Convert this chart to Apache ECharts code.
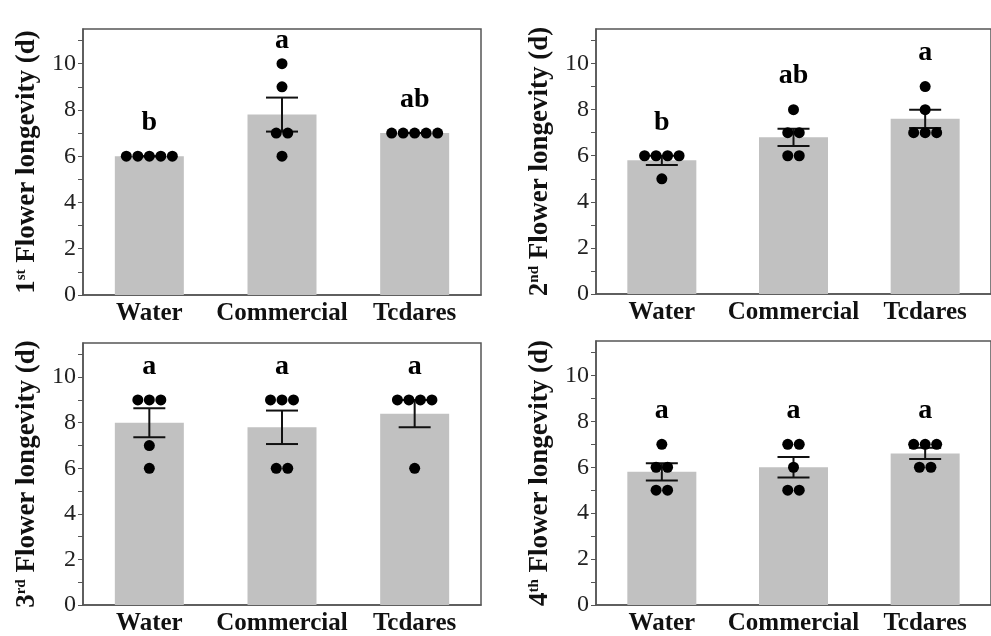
<!DOCTYPE html>
<html>
<head>
<meta charset="utf-8">
<script src="https://cdn.jsdelivr.net/npm/echarts@6/dist/echarts.min.js"></script>
<style>
  html, body { margin: 0; padding: 0; background: #fff; }
  #chart { width: 991px; height: 636px; }
</style>
</head>
<body>
<div id="chart"></div>
<script>
const categories = ["Water", "Commercial", "Tcdares"];

// individual flowers per treatment (days)
const flower1 = [[6, 6, 6, 6, 6], [10, 9, 7, 7, 6], [7, 7, 7, 7, 7]];
const flower2 = [[6, 6, 6, 6, 5], [8, 7, 7, 6, 6], [9, 8, 7, 7, 7]];
const flower3 = [[9, 9, 9, 7, 6], [9, 9, 9, 6, 6], [9, 9, 9, 9, 6]];
const flower4 = [[7, 6, 6, 5, 5], [7, 7, 6, 5, 5], [7, 7, 7, 6, 6]];

const letters1 = ["b", "a", "ab"];
const letters2 = ["b", "ab", "a"];
const letters3 = ["a", "a", "a"];
const letters4 = ["a", "a", "a"];

const ordinals = ["1", "2", "3", "4"];
const ordinalSuffix = ["st", "nd", "rd", "th"];
const yTickLabels = [0, 2, 4, 6, 8, 10];

const panels = [flower1, flower2, flower3, flower4];
const letters = [letters1, letters2, letters3, letters4];

const serif = "Liberation Serif";
const lineColor = "#555";
const yMax = 11.5;

const grids = [
  { left: 83, top: 29, width: 398, height: 266 },
  { left: 596, top: 29, width: 410, height: 265 },
  { left: 83, top: 343, width: 398, height: 266 },
  { left: 596, top: 341, width: 410, height: 266 },
];

const mean = (arr) => arr.reduce((a, b) => a + b, 0) / arr.length;
const se = (arr) => {
  const m = mean(arr);
  const v = arr.reduce((a, b) => a + (b - m) * (b - m), 0) / (arr.length - 1);
  return Math.sqrt(v / arr.length);
};

const xAxis = [];
const yAxis = [];
const series = [];

panels.forEach((groups, i) => {
  xAxis.push({
    type: "category",
    gridIndex: i,
    data: categories,
    axisLine: { lineStyle: { color: lineColor, width: 1.5 } },
    axisTick: { show: false },
    axisLabel: {
      interval: 0,
      hideOverlap: false,
      margin: 6,
      fontFamily: serif,
      fontWeight: "bold",
      fontSize: 25,
      color: "#111",
    },
  });
  yAxis.push({
    type: "value",
    gridIndex: i,
    min: 0,
    max: yMax,
    interval: 1,
    name: `{n|${ordinals[i]}}{s|${ordinalSuffix[i]}}{n| Flower longevity (d)}`,
    nameLocation: "middle",
    nameGap: 42,
    nameTextStyle: {
      rich: {
        n: { fontFamily: serif, fontWeight: "bold", fontSize: 27, color: "#111" },
        s: {
          fontFamily: serif,
          fontWeight: "bold",
          fontSize: 15,
          color: "#111",
          verticalAlign: "top",
        },
      },
    },
    splitLine: { show: false },
    axisLine: { show: true, lineStyle: { color: lineColor, width: 1.5 } },
    axisTick: { show: true, length: 5, lineStyle: { color: lineColor } },
    axisLabel: {
      margin: 7,
      fontFamily: serif,
      fontSize: 24,
      color: "#222",
      showMaxLabel: false,
      formatter: (v) => (yTickLabels.includes(v) ? String(v) : ""),
    },
  });

  const means = groups.map(mean);
  const errs = groups.map(se);

  series.push({
    type: "bar",
    xAxisIndex: i,
    yAxisIndex: i,
    barWidth: 69,
    data: means,
    itemStyle: { color: "#c1c1c1" },
    z: 1,
  });

  series.push({
    type: "custom",
    xAxisIndex: i,
    yAxisIndex: i,
    z: 3,
    data: means.map((m, k) => [k, m - errs[k], m + errs[k]]),
    renderItem: (params, api) => {
      const lo = api.coord([api.value(0), api.value(1)]);
      const hi = api.coord([api.value(0), api.value(2)]);
      const half = 16;
      const style = { stroke: "#111", lineWidth: 2 };
      return {
        type: "group",
        children: [
          { type: "line", shape: { x1: lo[0], y1: lo[1], x2: hi[0], y2: hi[1] }, style },
          { type: "line", shape: { x1: lo[0] - half, y1: lo[1], x2: lo[0] + half, y2: lo[1] }, style },
          { type: "line", shape: { x1: hi[0] - half, y1: hi[1], x2: hi[0] + half, y2: hi[1] }, style },
        ],
      };
    },
  });

  // dots: same values are spread side by side
  const dots = [];
  groups.forEach((vals, k) => {
    const counts = {};
    vals.forEach((v) => (counts[v] = (counts[v] || 0) + 1));
    const seen = {};
    vals.forEach((v) => {
      const n = counts[v];
      const j = seen[v] || 0;
      seen[v] = j + 1;
      dots.push({ value: [k, v], symbolOffset: [(j - (n - 1) / 2) * 11.5, 0] });
    });
  });
  series.push({
    type: "scatter",
    xAxisIndex: i,
    yAxisIndex: i,
    symbolSize: 11,
    itemStyle: { color: "#000", opacity: 1 },
    data: dots,
    z: 4,
  });

  // significance letters, kept inside the frame
  series.push({
    type: "custom",
    xAxisIndex: i,
    yAxisIndex: i,
    z: 5,
    data: groups.map((vals, k) => [k, Math.min(Math.max(...vals) + 1.45, yMax - 0.5)]),
    renderItem: (params, api) => {
      const p = api.coord([api.value(0), api.value(1)]);
      return {
        type: "text",
        x: p[0],
        y: p[1],
        style: {
          text: letters[i][params.dataIndex],
          fontFamily: serif,
          fontWeight: "bold",
          fontSize: 28,
          fill: "#000",
          align: "center",
          verticalAlign: "middle",
        },
      };
    },
  });
});

const chart = echarts.init(document.getElementById("chart"));
chart.setOption({
  animation: false,
  backgroundColor: "#fff",
  grid: grids.map((g) => ({ ...g, show: true, borderColor: lineColor, borderWidth: 1.5, containLabel: false })),
  xAxis,
  yAxis,
  series,
});
</script>
</body>
</html>
